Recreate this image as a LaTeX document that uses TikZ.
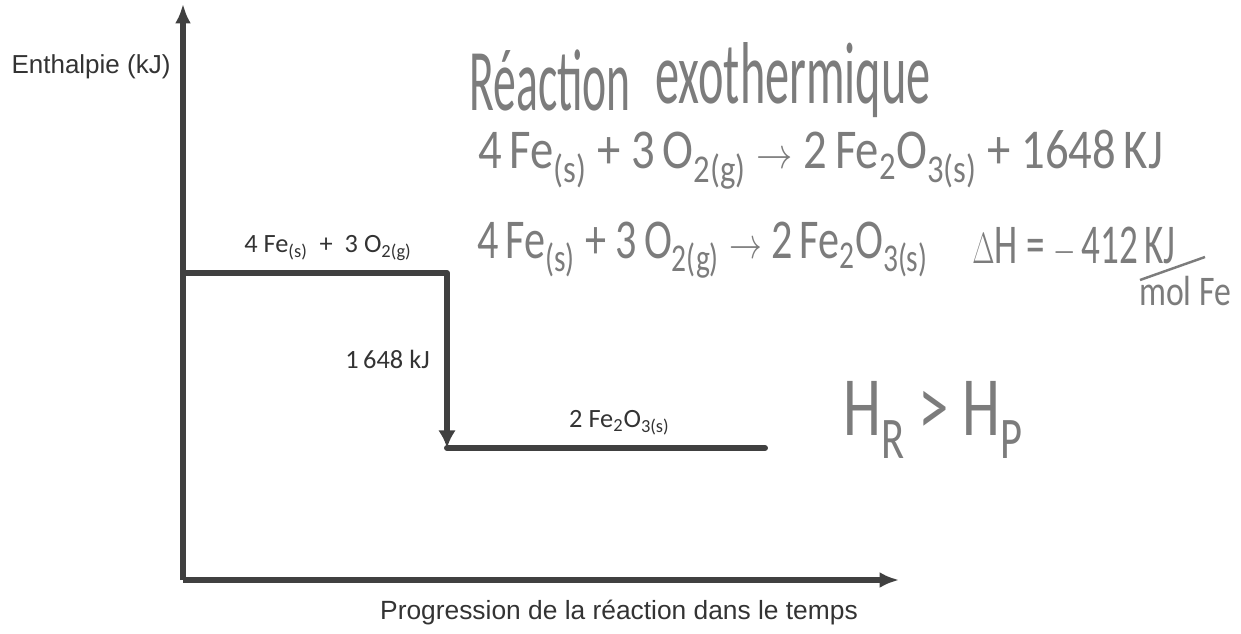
\documentclass[tikz,border=0pt]{standalone}
\usepackage{graphicx}
\usepackage{fontspec}
\setmainfont{Liberation Sans}
\newfontfamily\calib{Carlito}
\usetikzlibrary{arrows.meta}
\definecolor{axisgray}{HTML}{404040}
\definecolor{pencil}{HTML}{7C7C7C}

\begin{document}
\begin{tikzpicture}[x=0.02cm,y=-0.02cm,
  axis/.style={draw=axisgray,line width=3.4pt,-{Latex[length=11pt,width=9pt]}},
  level/.style={draw=axisgray,line width=3.4pt,line cap=round},
  label/.style={text=black!80,inner sep=0pt},
  chem/.style={text=black!80,inner sep=0pt,font=\calib\fontsize{15}{17}\selectfont},
  hand/.style={text=pencil,inner sep=0pt,anchor=west,font=\calib\fontsize{32}{36}\selectfont}]
\useasboundingbox (0,0) rectangle (1241,633);
\coordinate (O) at (183,580);
\coordinate (ytop) at (183,4);
\coordinate (xend) at (899,580);
\coordinate (reac1) at (183,273);
\coordinate (reac2) at (447,273);
\coordinate (prod1) at (447,448);
\coordinate (prod2) at (765,448);
% axes
\draw[axis] (O) -- (ytop);
\draw[axis] (O) -- (xend);
% enthalpy levels
\draw[level] (reac1) -- (reac2);
\draw[level,line cap=butt,-{Latex[length=10pt,width=10pt]}] (reac2) -- (prod1);
\draw[level] (prod1) -- (prod2);
\node[label,font=\fontsize{14.8}{17}\selectfont] (ylab) at (91,67) {Enthalpie (kJ)};
\node[label,font=\fontsize{15}{17}\selectfont] (xlab) at (619,613) {Progression de la réaction dans le temps};
\node[chem] (reac) at (328,248) {4 Fe\textsubscript{(s)} \ + \ 3 O\textsubscript{2(g)}};
\node[chem,anchor=east] (dh) at (430,359) {1\,648 kJ};
\node[chem,anchor=east] (prod) at (670,423) {2 Fe\textsubscript{2}O\textsubscript{3(s)}};
% handwritten notes
\node[hand,font=\calib\fontsize{50}{56}\selectfont] (titre) at (469,80) {\scalebox{0.52}[1]{Réaction}};
\node[hand,font=\calib\fontsize{50}{56}\selectfont] (titre2) at (655,80) {\scalebox{0.55}[1]{exothermique}};
\node[hand] (eq1) at (478,160) {\scalebox{0.83}[1]{4\,Fe\textsubscript{(s)} + 3\,O\textsubscript{2(g)} $\rightarrow$ 2\,Fe\textsubscript{2}O\textsubscript{3(s)} + 1648\,KJ}};
\node[hand] (eq2) at (477,250) {\scalebox{0.75}[1]{4\,Fe\textsubscript{(s)} + 3\,O\textsubscript{2(g)} $\rightarrow$ 2\,Fe\textsubscript{2}O\textsubscript{3(s)}}};
\node[hand] (dhval) at (972,247) {\scalebox{0.66}[1]{$\Delta$H = $-$\,412\,KJ}};
\node[hand,font=\calib\fontsize{24}{28}\selectfont,anchor=center] (molfe) at (1185,291) {\scalebox{0.8}[1]{mol Fe}};
\draw[pencil,line width=1.4pt] (1140,280) -- (1205,257);
\node[hand,font=\calib\fontsize{48}{54}\selectfont] (hrhp) at (843,420) {\scalebox{0.72}[1]{H\textsubscript{R} > H\textsubscript{P}}};
\end{tikzpicture}
\end{document}
